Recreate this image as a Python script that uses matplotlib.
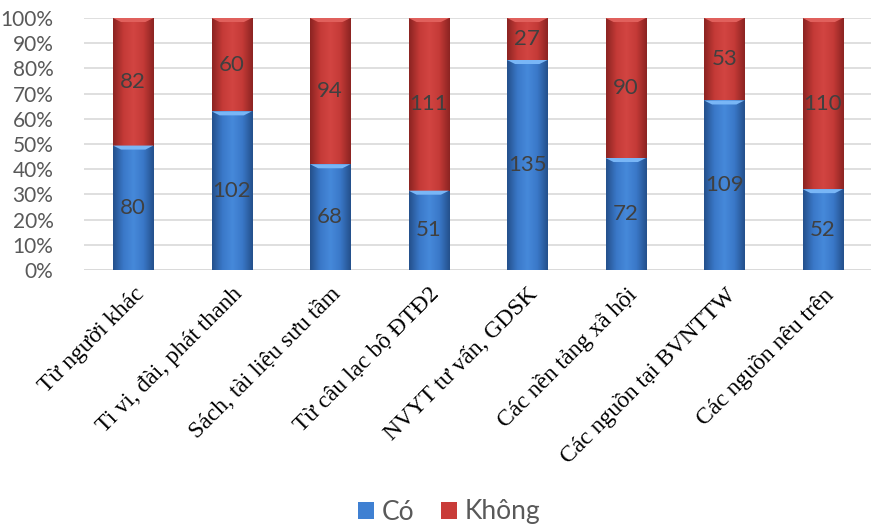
import matplotlib
matplotlib.use("Agg")
import matplotlib.pyplot as plt
import numpy as np
from matplotlib.colors import LinearSegmentedColormap

categories = ["Từ người khác", "Ti vi, đài, phát thanh", "Sách, tài liệu sưu tầm",
              "Từ câu lạc bộ ĐTĐ2", "NVYT tư vấn, GDSK", "Các nền tảng xã hội",
              "Các nguồn tại BVNTTW", "Các nguồn nêu trên"]
co = [80, 102, 68, 51, 135, 72, 109, 52]
khong = [82, 60, 94, 111, 27, 90, 53, 110]
series_names = ["Có", "Không"]
yticks = [0, 10, 20, 30, 40, 50, 60, 70, 80, 90, 100]

sans = ["Lato", "DejaVu Sans"]
fig = plt.figure(figsize=(8.71, 5.27), dpi=100)
ax = fig.add_axes([84 / 871, 1 - 270 / 527, (872 - 84) / 871, 252 / 527])

co = np.array(co, float)
khong = np.array(khong, float)
tot = co + khong
pc = co / tot * 100
pk = khong / tot * 100
x = np.arange(len(categories))
w = 0.41

blue_cmap = LinearSegmentedColormap.from_list("b", ["#24508c", "#3a78c8", "#4689da", "#3a78c8", "#24508c"])
red_cmap = LinearSegmentedColormap.from_list("r", ["#8c2422", "#c43a37", "#d24542", "#c43a37", "#8c2422"])

b1 = ax.bar(x, pc, w, color="#3f80d2", label=series_names[0], zorder=2)
b2 = ax.bar(x, pk, w, bottom=pc, color="#c93c39", label=series_names[1], zorder=2)

grad = np.linspace(0, 1, 64).reshape(1, -1)
for bars, cmap in ((b1, blue_cmap), (b2, red_cmap)):
    for p in bars:
        x0, y0 = p.get_x(), p.get_y()
        ww, hh = p.get_width(), p.get_height()
        im = ax.imshow(grad, cmap=cmap, aspect="auto", extent=[x0, x0 + ww, y0, y0 + hh],
                       zorder=3, interpolation="bicubic")
        im.set_clip_path(p)
        light = "#79b6f6" if cmap is blue_cmap else "#e0605c"
        ax.fill([x0, x0 + ww, x0 + ww * 0.8, x0 + ww * 0.2],
                [y0 + hh, y0 + hh, y0 + hh - 1.6, y0 + hh - 1.6],
                color=light, zorder=4, lw=0)

for i in range(len(x)):
    ax.text(x[i], pc[i] / 2, f"{int(co[i])}", ha="center", va="center",
            fontsize=16, color="#404040", family=sans, zorder=5)
    ax.text(x[i], pc[i] + pk[i] / 2, f"{int(khong[i])}", ha="center", va="center",
            fontsize=16, color="#404040", family=sans, zorder=5)

ax.set_xlim(-0.5, len(x) - 0.5)
ax.set_ylim(0, 100)
ax.set_yticks(yticks)
ax.set_yticklabels([f"{t}%" for t in yticks], fontsize=15, color="#595959", family=sans)
ax.yaxis.grid(True, color="#d9d9d9", lw=1.2, zorder=0)
ax.set_axisbelow(True)
for s in ax.spines.values():
    s.set_visible(False)
ax.tick_params(axis="both", length=0)
ax.tick_params(axis="y", pad=22)
ax.set_xticks(x)
ax.set_xticklabels(categories, rotation=45, ha="right", rotation_mode="anchor",
                   fontsize=17, family=["Liberation Serif", "DejaVu Serif"], color="black")
ax.tick_params(axis="x", pad=10)
ax.axhline(0, color="#d9d9d9", lw=1.2, zorder=1)

leg = fig.legend(handles=[b1, b2], labels=series_names, loc="center", bbox_to_anchor=(449 / 871, 1 - 512 / 527),
                 ncol=2, frameon=False, prop={"family": sans, "size": 19},
                 handlelength=0.6, handleheight=0.6, handletextpad=0.3, columnspacing=1.0)
for t in leg.get_texts():
    t.set_color("#595959")

fig.savefig("out.png", dpi=100)
